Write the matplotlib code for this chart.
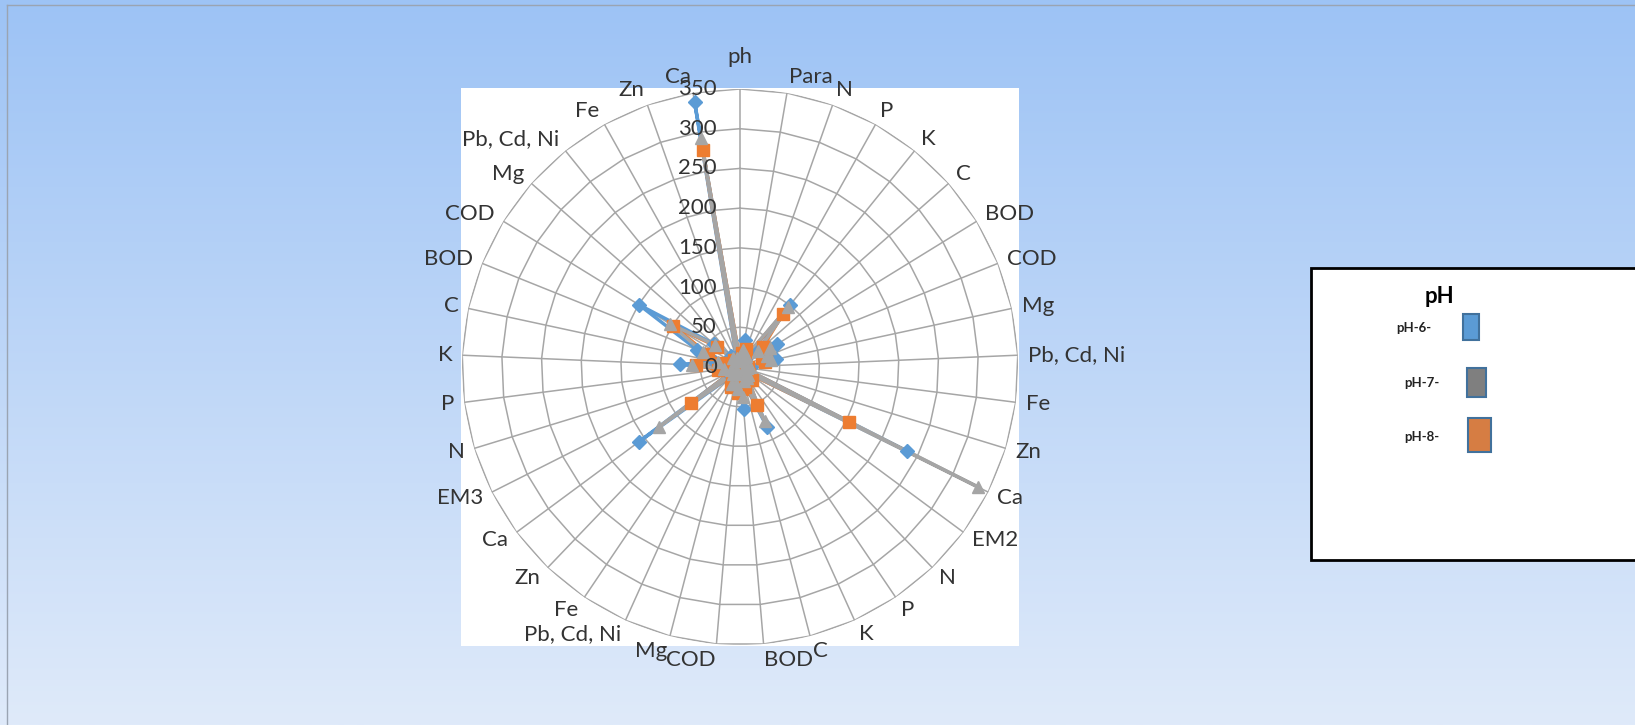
import numpy as np
import matplotlib.pyplot as plt
from matplotlib.patches import Rectangle
from matplotlib.transforms import offset_copy

plt.rcParams['font.family'] = ['Lato', 'DejaVu Sans']

# radar categories, clockwise from the top
categories = ['ph', 'Para', 'N', 'P', 'K', 'C', 'BOD', 'COD', 'Mg', 'Pb, Cd, Ni', 'Fe', 'Zn', 'Ca',
              'EM2', 'N', 'P', 'K', 'C', 'BOD', 'COD', 'Mg', 'Pb, Cd, Ni', 'Fe', 'Zn', 'Ca',
              'EM3', 'N', 'P', 'K', 'C', 'BOD', 'COD', 'Mg', 'Pb, Cd, Ni', 'Fe', 'Zn', 'Ca']

ph6 = [6, 35, 20, 12, 100, 28, 55, 42, 46, 14, 10, 6, 235,
       12, 18, 12, 83, 22, 53, 20, 14, 18, 8, 16, 158,
       8, 14, 18, 76, 32, 58, 149, 44, 18, 10, 14, 338]
ph7 = [7, 22, 14, 16, 97, 30, 45, 36, 40, 12, 9, 5, 335,
       10, 14, 16, 75, 18, 38, 28, 22, 24, 10, 12, 127,
       6, 12, 20, 60, 28, 50, 103, 42, 14, 8, 12, 292]
ph8 = [8, 18, 24, 14, 86, 39, 38, 30, 32, 10, 7, 5, 154,
       14, 22, 20, 53, 26, 28, 33, 24, 27, 12, 14, 76,
       9, 10, 28, 55, 24, 44, 99, 39, 12, 8, 10, 277]

r_ticks = [0, 50, 100, 150, 200, 250, 300, 350]
legend_title = 'pH'
legend_labels = ['pH-6-', 'pH-7-', 'pH-8-']

W, H = 1635, 725
fig = plt.figure(figsize=(W / 100, H / 100), dpi=100)

# background: vertical blue gradient, drawn in pixel coordinates
bg = fig.add_axes([0, 0, 1, 1], zorder=-10)
top = np.array([157, 195, 245]) / 255
bottom = np.array([223, 234, 250]) / 255
t = np.linspace(0, 1, 256)[:, None, None]
bg.imshow(top + (bottom - top) * t, aspect='auto', extent=[0, W, H, 0])
bg.set_xlim(0, W)
bg.set_ylim(H, 0)
bg.axis('off')
bg.plot([7, 7], [5, H], color='#9aa4b2', lw=1)
bg.plot([7, W], [5, 5], color='#9aa4b2', lw=1)

# white plot area
bg.add_patch(Rectangle((461, 88), 558, 558, facecolor='white', edgecolor='none'))

# legend drawn as shapes
bg.add_patch(Rectangle((1311, 268), 400, 292, facecolor='white', edgecolor='black', lw=2))
bg.text(1439, 296, legend_title, ha='center', va='center', fontsize=16, fontweight='bold', color='black')
swatches = [((1463, 314), 16, 26, '#5B9BD5', (1414, 328)),
            ((1467, 368), 19, 29, '#7F7F7F', (1422, 383)),
            ((1468, 418), 23, 34, '#D67D43', (1422, 437))]
for (xy, w, h, col, pos), lab in zip(swatches, legend_labels):
    bg.add_patch(Rectangle(xy, w, h, facecolor=col, edgecolor='#41719C', lw=1.5))
    bg.text(pos[0], pos[1], lab, ha='center', va='center', fontsize=9.5, fontweight='bold', color='#222222')

# radar axes
cx, cy, R = 740, 367, 278
ax = fig.add_axes([(cx - R) / W, (H - cy - R) / H, 2 * R / W, 2 * R / H], projection='polar')
ax.set_facecolor('none')
ax.set_theta_zero_location('N')
ax.set_theta_direction(-1)
ax.set_ylim(0, 350)
ax.grid(False)
ax.spines['polar'].set_visible(False)
ax.set_xticks([])
ax.set_yticks([])

n = len(categories)
theta = 2 * np.pi * np.arange(n) / n
theta_c = np.append(theta, theta[0])

grid_col = '#A6A6A6'
for r in r_ticks[1:]:
    ax.plot(theta_c, [r] * (n + 1), color=grid_col, lw=1.1, zorder=1)
for th in theta:
    ax.plot([th, th], [0, 350], color=grid_col, lw=1.1, zorder=1)

series = [(ph6, '#5B9BD5', 'D', 7.5),
          (ph8, '#ED7D31', 's', 8),
          (ph7, '#A5A5A5', '^', 9)]
for i, (vals, col, mk, ms) in enumerate(series):
    ax.plot(theta_c, np.append(vals, vals[0]), color=col, lw=2.5, zorder=3 + i)
for i, (vals, col, mk, ms) in enumerate(series):
    ax.plot(theta, vals, linestyle='none', marker=mk, markersize=ms, color=col,
            zorder=7 + i, clip_on=False)

txt_col = '#333333'
for v in r_ticks:
    ax.text(0, v, str(v), transform=offset_copy(ax.transData, fig, x=-23, y=0, units='dots'),
            ha='right', va='center', fontsize=16, color=txt_col, zorder=10)

for i, lab in enumerate(categories):
    s, c = np.sin(theta[i]), np.cos(theta[i])
    ha = 'left' if s > 0.05 else ('right' if s < -0.05 else 'center')
    g = 26 if i == 0 else 10
    dx = g * s
    dy = g * c + 6 * c * abs(c)
    ax.text(theta[i], 350, lab, transform=offset_copy(ax.transData, fig, x=dx, y=dy, units='dots'),
            ha=ha, va='center', fontsize=16, color=txt_col, clip_on=False)

fig.savefig('out.png', dpi=100)
